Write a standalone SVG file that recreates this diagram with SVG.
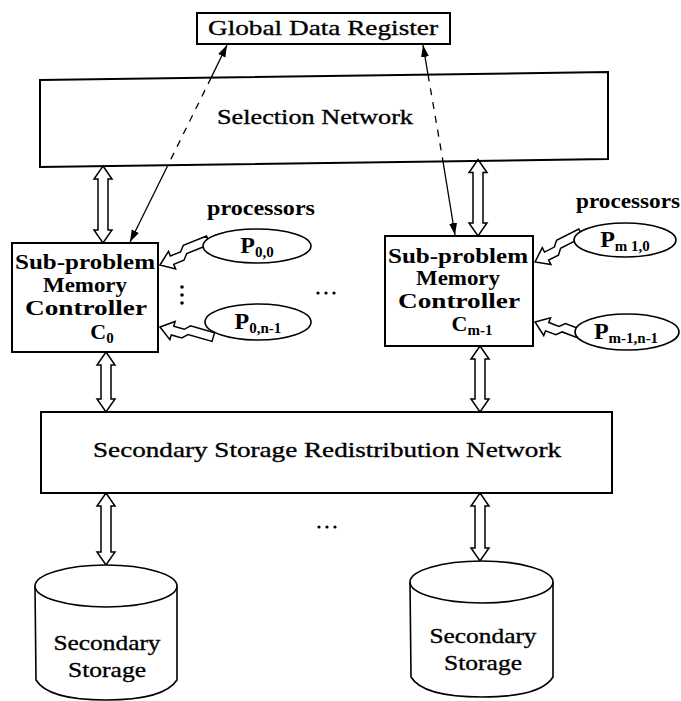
<svg xmlns="http://www.w3.org/2000/svg" width="681" height="701" viewBox="0 0 681 701">
  <defs>
    <style>
      .box { fill: #fff; stroke: #000; stroke-width: 2; }
      .open { fill: none; }
      .shape { fill: #fff; stroke: #000; stroke-width: 1.6; }
      .bus { fill: #fff; stroke: #000; stroke-width: 1.5; stroke-linejoin: miter; }
      .link { fill: none; stroke: #000; stroke-width: 1.3; }
      .dash { stroke-dasharray: 7 7; }
      .t { font-family: "Liberation Serif", "DejaVu Serif", serif; fill: #000; stroke: #000; stroke-width: 0.35; text-anchor: middle; }
      .big { font-size: 22px; }
      .ctl { font-size: 20px; font-weight: bold; stroke-width: 0; }
      .lbl { font-size: 20px; font-weight: bold; stroke-width: 0; }
      .pn { font-size: 24px; font-weight: bold; stroke-width: 0; }
      .sub { font-size: 15px; font-weight: bold; }
      .dot { fill: #000; }
    </style>
    <marker id="head" markerUnits="userSpaceOnUse" markerWidth="14" markerHeight="9" refX="12" refY="4.5" orient="auto-start-reverse">
      <path d="M0,0.5 L12,4.5 L0,8.5 Z" fill="#000"/>
    </marker>
    <!-- jogged hollow bus arrow, tip at the origin, tail along +x -->
    <path id="pbus" d="M0,0 L13,-9.5 L13,-4.5 L24,-4.5 L29,-9.5 L54,-9.5 L54,-0.5 L29,-0.5 L24,4.5 L13,4.5 L13,9.5 Z"/>
  </defs>

  <!-- connectors -->
  <g id="connectors">
    <!-- global data register links (solid outside the network, dashed through it) -->
    <path class="link" d="M227,45 L211.2,77.6" marker-start="url(#head)"/>
    <path class="link dash" d="M211.2,77.6 L167.9,165.2"/>
    <path class="link" d="M167.9,165.2 L130,242" marker-end="url(#head)"/>
    <path class="link" d="M423,45 L428,74.5" marker-start="url(#head)"/>
    <path class="link dash" d="M428,74.5 L443,161.3"/>
    <path class="link" d="M443,161.3 Q449,198 455,235" marker-end="url(#head)"/>

    <!-- selection network buses -->
    <path class="bus" d="M103,166 L112,179 L108,179 L108,230 L112,230 L103,243 L94,230 L98,230 L98,179 L94,179 Z"/>
    <path class="bus" d="M478,159.5 L487,172.5 L483,172.5 L483,223 L487,223 L478,236 L469,223 L473,223 L473,172.5 L469,172.5 Z"/>

    <!-- redistribution network buses -->
    <path class="bus" d="M106,352 L115,365 L111,365 L111,399 L115,399 L106,412 L97,399 L101,399 L101,365 L97,365 Z"/>
    <path class="bus" d="M480,346 L489,359 L485,359 L485,399 L489,399 L480,412 L471,399 L475,399 L475,359 L471,359 Z"/>
    <path class="bus" d="M106,493 L115,506 L111,506 L111,552 L115,552 L106,565 L97,552 L101,552 L101,506 L97,506 Z"/>
    <path class="bus" d="M480,493 L489,506 L485,506 L485,548 L489,548 L480,561 L471,548 L475,548 L475,506 L471,506 Z"/>

    <!-- processor buses -->
    <use href="#pbus" class="bus" transform="translate(160,265) rotate(-22)"/>
    <use href="#pbus" class="bus" transform="translate(160,327) rotate(16)"/>
    <use href="#pbus" class="bus" transform="translate(535,262) rotate(-27)"/>
    <use href="#pbus" class="bus" transform="translate(535,322) rotate(21)"/>
  </g>

  <!-- global data register -->
  <g id="global-data-register">
    <rect class="box" x="197" y="13" width="253" height="31"/>
    <text class="t big" x="323" y="35" textLength="230" lengthAdjust="spacingAndGlyphs">Global Data Register</text>
  </g>

  <!-- selection network (unfilled so the dashed links show through) -->
  <g id="selection-network">
    <polygon class="box open" points="40,80 608,72 608,159 40,167"/>
    <text class="t big" x="315" y="124" textLength="196" lengthAdjust="spacingAndGlyphs">Selection Network</text>
  </g>

  <!-- controller C0 -->
  <g id="controller-0">
    <rect class="box" x="12" y="243" width="146" height="109"/>
    <text class="t ctl" x="85" y="269" textLength="140" lengthAdjust="spacingAndGlyphs">Sub-problem</text>
    <text class="t ctl" x="85" y="292" textLength="84" lengthAdjust="spacingAndGlyphs">Memory</text>
    <text class="t ctl" x="86" y="315" textLength="122" lengthAdjust="spacingAndGlyphs">Controller</text>
    <text class="t pn" x="102" y="339" style="font-size:22px">C<tspan class="sub" dy="4">0</tspan></text>
  </g>

  <!-- controller Cm-1 -->
  <g id="controller-m1">
    <rect class="box" x="385" y="236" width="148" height="110"/>
    <text class="t ctl" x="458" y="263" textLength="140" lengthAdjust="spacingAndGlyphs">Sub-problem</text>
    <text class="t ctl" x="458" y="285" textLength="84" lengthAdjust="spacingAndGlyphs">Memory</text>
    <text class="t ctl" x="459" y="308" textLength="122" lengthAdjust="spacingAndGlyphs">Controller</text>
    <text class="t pn" x="472" y="331" style="font-size:22px">C<tspan class="sub" dy="4">m-1</tspan></text>
  </g>

  <!-- processor labels -->
  <g id="processors-label-0">
    <text class="t lbl" x="261" y="215" textLength="108" lengthAdjust="spacingAndGlyphs">processors</text>
  </g>
  <g id="processors-label-m1">
    <text class="t lbl" x="628" y="208" textLength="104" lengthAdjust="spacingAndGlyphs">processors</text>
  </g>

  <!-- processors -->
  <g id="p-0-0">
    <ellipse class="shape" cx="257" cy="246" rx="54" ry="17"/>
    <text class="t pn" x="257" y="253">P<tspan class="sub" dy="4">0,0</tspan></text>
  </g>
  <g id="p-0-n1">
    <ellipse class="shape" cx="258" cy="322" rx="53" ry="18"/>
    <text class="t pn" x="258" y="329">P<tspan class="sub" dy="4">0,n-1</tspan></text>
  </g>
  <g id="p-m1-0">
    <ellipse class="shape" cx="625" cy="240" rx="51" ry="17"/>
    <text class="t pn" x="625" y="247">P<tspan class="sub" dy="4">m 1,0</tspan></text>
  </g>
  <g id="p-m1-n1">
    <ellipse class="shape" cx="627" cy="332" rx="52" ry="18"/>
    <text class="t pn" x="626" y="339">P<tspan class="sub" dy="4">m-1,n-1</tspan></text>
  </g>

  <!-- ellipses -->
  <g id="ellipsis-vertical">
    <circle class="dot" cx="182" cy="287" r="1.8"/>
    <circle class="dot" cx="182" cy="295" r="1.8"/>
    <circle class="dot" cx="182" cy="303" r="1.8"/>
  </g>
  <g id="ellipsis-controllers">
    <circle class="dot" cx="318" cy="293" r="1.6"/>
    <circle class="dot" cx="326" cy="293" r="1.6"/>
    <circle class="dot" cx="334" cy="293" r="1.6"/>
  </g>
  <g id="ellipsis-storage">
    <circle class="dot" cx="319" cy="527" r="1.6"/>
    <circle class="dot" cx="327" cy="527" r="1.6"/>
    <circle class="dot" cx="335" cy="527" r="1.6"/>
  </g>

  <!-- redistribution network -->
  <g id="redistribution-network">
    <rect class="box" x="41" y="412" width="571" height="81"/>
    <text class="t big" x="327" y="457" textLength="468" lengthAdjust="spacingAndGlyphs">Secondary Storage Redistribution Network</text>
  </g>

  <!-- secondary storage cylinders -->
  <g id="storage-0">
    <path class="shape" d="M35,586 L36,680 Q48,700 106,700 Q164,700 177,680 L177,586"/>
    <ellipse class="shape" cx="106" cy="586" rx="71" ry="21"/>
    <text class="t big" x="107" y="650" textLength="107" lengthAdjust="spacingAndGlyphs">Secondary</text>
    <text class="t big" x="107" y="677" textLength="78" lengthAdjust="spacingAndGlyphs">Storage</text>
  </g>
  <g id="storage-1">
    <path class="shape" d="M410,582 L411,677 Q423,697 482,697 Q541,697 553,677 L553,582"/>
    <ellipse class="shape" cx="481.5" cy="582" rx="71.5" ry="21"/>
    <text class="t big" x="483" y="643" textLength="107" lengthAdjust="spacingAndGlyphs">Secondary</text>
    <text class="t big" x="483" y="670" textLength="78" lengthAdjust="spacingAndGlyphs">Storage</text>
  </g>
</svg>
